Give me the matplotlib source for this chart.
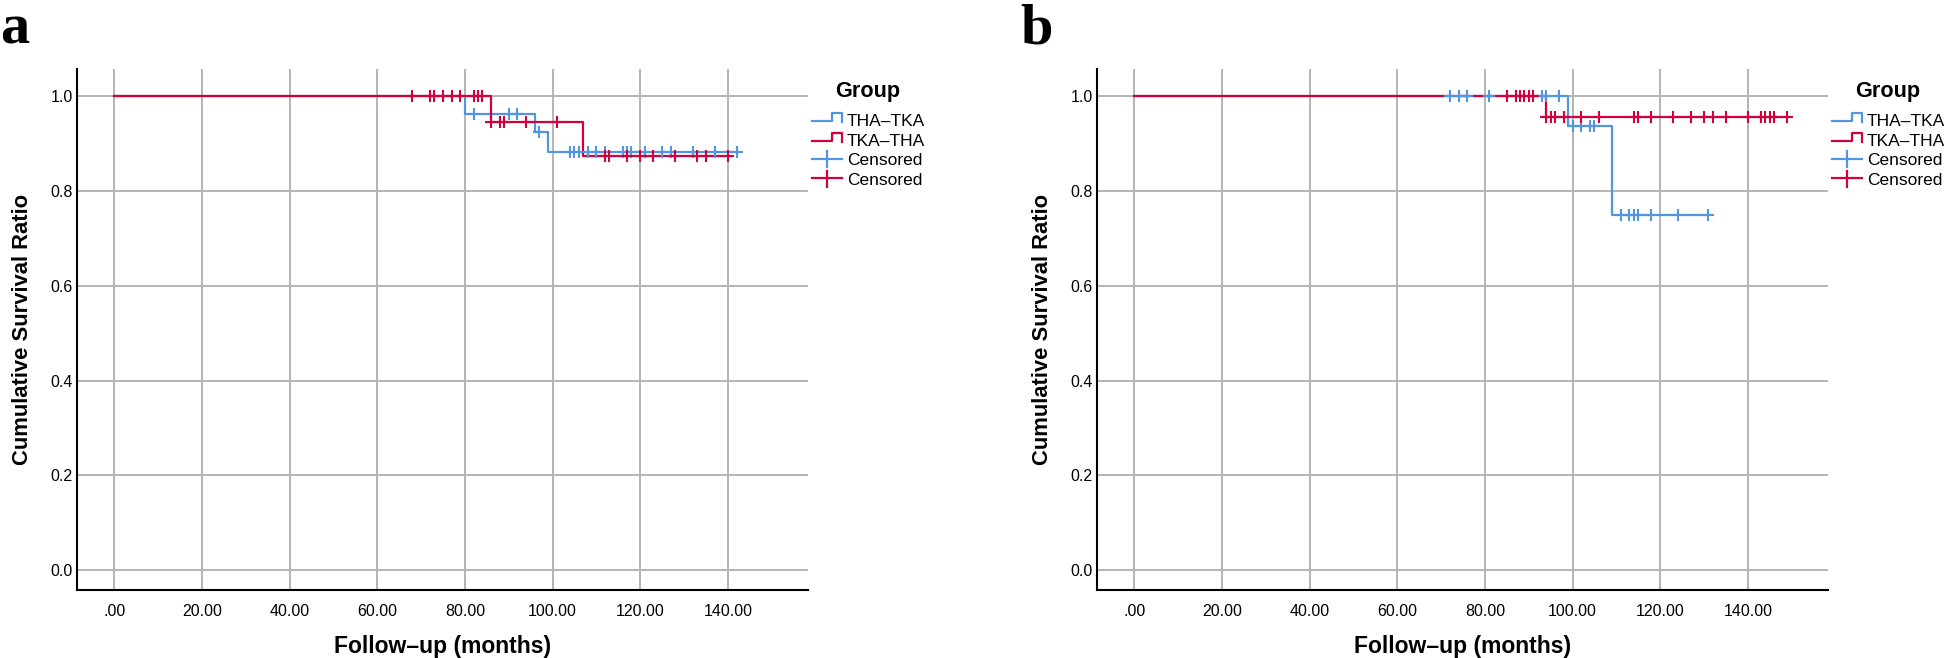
import matplotlib
matplotlib.use("Agg")
import matplotlib.pyplot as plt
from matplotlib.lines import Line2D
import numpy as np

# ---------------- data ----------------
groups = ["THA\u2013TKA", "TKA\u2013THA"]
x_ticks = [0, 20, 40, 60, 80, 100, 120, 140]
x_tick_labels = [".00", "20.00", "40.00", "60.00", "80.00", "100.00", "120.00", "140.00"]
y_ticks = [0.0, 0.2, 0.4, 0.6, 0.8, 1.0]
y_tick_labels = ["0.0", "0.2", "0.4", "0.6", "0.8", "1.0"]

# Panel a
a_tha_t = [0, 80, 96, 99, 142]
a_tha_s = [1.0, 0.964, 0.924, 0.882, 0.882]
a_tha_cens = [82, 90, 92, 97, 104, 105, 106, 108, 110, 112, 116, 117, 118,
              121, 125, 127, 132, 137, 142]
a_tka_t = [0, 86, 107, 140]
a_tka_s = [1.0, 0.947, 0.874, 0.874]
a_tka_cens = [68, 72, 73, 75, 77, 79, 82, 83, 84, 86, 88, 89, 94, 101,
              112, 113, 117, 120, 123, 128, 133, 135, 140]

# Panel b
b_tha_t = [0, 99, 109, 131]
b_tha_s = [1.0, 0.9375, 0.75, 0.75]
b_tha_cens = [72, 74, 76, 81, 93, 94, 97, 100, 102, 104, 105,
              111, 113, 114, 115, 118, 124, 131]
b_tka_t = [0, 94, 149]
b_tka_s = [1.0, 0.956, 0.956]
b_tka_cens = [85, 87, 88, 89, 90, 91, 94, 95, 96, 98, 102, 106, 114, 115, 118,
              123, 127, 130, 132, 135, 140, 143, 144, 145, 146, 149]

panels = [
    ("a", (a_tha_t, a_tha_s, a_tha_cens), (a_tka_t, a_tka_s, a_tka_cens)),
    ("b", (b_tha_t, b_tha_s, b_tha_cens), (b_tka_t, b_tka_s, b_tka_cens)),
]

# ---------------- style ----------------
BLUE = "#5295E0"
RED = "#D2003C"
GRID = "#B4B4B4"
SANS = ["Liberation Sans", "DejaVu Sans"]
SERIF = ["Liberation Serif", "DejaVu Serif"]

W, H = 1944, 658
fig = plt.figure(figsize=(W / 100, H / 100), dpi=100)


def fx(x):
    return x / W


def fy(y):
    return 1 - y / H


AX_LEFTS = [77, 1097]
AX_TOP, AX_BOTTOM, AX_W = 69, 590, 731


def level_at(t, s, c):
    t = np.asarray(t, float)
    s = np.asarray(s, float)
    idx = np.searchsorted(t, np.asarray(c, float), side="right") - 1
    return s[idx]


for k, (letter, tha, tka) in enumerate(panels):
    left = AX_LEFTS[k]
    ax = fig.add_axes([fx(left), fy(AX_BOTTOM), AX_W / W, (AX_BOTTOM - AX_TOP) / H])
    ax.set_xlim(-8.5, 158.3)
    ax.set_ylim(-0.042, 1.058)
    ax.set_axisbelow(True)
    ax.grid(True, color=GRID, lw=1.4)
    for sp in ("top", "right"):
        ax.spines[sp].set_visible(False)
    for sp in ("left", "bottom"):
        ax.spines[sp].set_color("black")
        ax.spines[sp].set_linewidth(1.5)
    ax.set_xticks(x_ticks)
    ax.set_xticklabels(x_tick_labels, family=SANS, fontsize=11.5)
    ax.set_yticks(y_ticks)
    ax.set_yticklabels(y_tick_labels, family=SANS, fontsize=11.5)
    ax.tick_params(axis="x", length=0, pad=10)
    ax.tick_params(axis="y", length=0, pad=3)

    # survival curves
    for (t, s, c), col in ((tha, BLUE), (tka, RED)):
        ax.plot(t, s, drawstyle="steps-post", color=col, lw=1.6, zorder=3)
    for (t, s, c), col in ((tha, BLUE), (tka, RED)):
        ax.plot(c, level_at(t, s, c), linestyle="none", marker="+", ms=9,
                mew=1.5, color=col, zorder=4)

    ax.set_xlabel("Follow\u2013up (months)", family=SANS, fontsize=16.5,
                  fontweight="bold")
    ax.xaxis.set_label_coords(0.5, (AX_BOTTOM - 646) / (AX_BOTTOM - AX_TOP))
    ax.xaxis.label.set_va("center")
    ax.set_ylabel("Cumulative Survival Ratio", family=SANS, fontsize=15.8,
                  fontweight="bold")
    ax.yaxis.set_label_coords(-0.074, 0.5)
    ax.yaxis.label.set_va("center")

    # panel letter
    fig.text(fx(left - 77), fy(43), letter, family=SERIF, fontsize=42,
             fontweight="bold", ha="left", va="baseline")

    # legend (manual, SPSS style)
    off = left - 77
    fig.text(fx(835 + off), fy(96.5), "Group", family=SANS, fontsize=15.6,
             fontweight="bold", ha="left", va="baseline")
    rows = [120, 139.5, 159, 178.5]
    labels = groups + ["Censored", "Censored"]
    cols = [BLUE, RED, BLUE, RED]
    for i, (yy, lab, col) in enumerate(zip(rows, labels, cols)):
        if i < 2:
            xs = [812 + off, 832 + off, 832 + off, 842 + off, 842 + off]
            ys = [yy + 1, yy + 1, yy - 7, yy - 7, yy + 2]
            fig.add_artist(Line2D([fx(v) for v in xs], [fy(v) for v in ys],
                                  color=col, lw=1.6, transform=fig.transFigure))
        else:
            fig.add_artist(Line2D([fx(812 + off), fx(842 + off)], [fy(yy), fy(yy)],
                                  color=col, lw=1.6, transform=fig.transFigure))
            fig.add_artist(Line2D([fx(827 + off), fx(827 + off)],
                                  [fy(yy - 8), fy(yy + 8)],
                                  color=col, lw=1.6, transform=fig.transFigure))
        fig.text(fx(847 + off), fy(yy + 6.2), lab, family=SANS, fontsize=12.5,
                 ha="left", va="baseline")

fig.savefig("out.png", dpi=100)
